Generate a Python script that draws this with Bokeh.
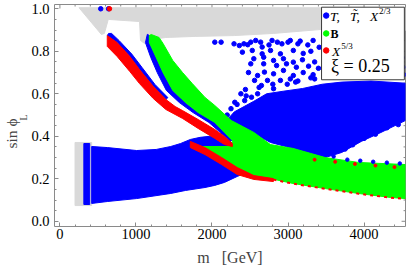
from bokeh.plotting import figure
from bokeh.models import Range1d, FixedTicker, Label, PrintfTickFormatter, Title
from bokeh.embed import file_html
from bokeh.resources import INLINE

FONT = "Liberation Serif"
BLUE, GREEN, RED, GRAY = "#0000ff", "#00ff00", "#ff0000", "#d9d9d9"
FRAME = "#8a8a8a"
NB = "\u00a0"

# ---------------- axes ----------------
X_LO, X_HI = -71, 4545
Y_LO, Y_HI = -0.0245, 1.0202
x_ticks = [0, 1000, 2000, 3000, 4000]
x_minor = [v for v in range(0, 4600, 200) if v % 1000]
y_ticks = [0.0, 0.2, 0.4, 0.6, 0.8, 1.0]
y_minor = [round(0.05 * k, 2) for k in range(0, 21) if k % 4]

# ---------------- data: m [GeV] vs sin(phi_L), region outlines ----------------
# grey: excluded points
gray_top_m = [251, 4543, 4543, 3579, 2808, 2294, 1780, 1394, 1214, 1112, 1060, 1047, 636, 585, 546]
gray_top_s = [1.005, 1.005, 0.898, 0.907, 0.884, 0.874, 0.870, 0.865, 0.856, 0.837, 0.851, 0.940, 0.950, 0.884, 0.879]
gray_low_m = [199, 418, 418, 199]
gray_low_s = [0.074, 0.074, 0.371, 0.371]

# blue: T, T~, X2/3
blue_strip_m = [315, 392, 392, 315]
blue_strip_s = [0.079, 0.079, 0.366, 0.366]
blue_low_m = [418, 623, 1009, 1266, 1458, 1587, 1715, 1844, 1972, 2101, 2230, 2358, 2461,
              2461, 2332, 2165, 2037, 1908, 1651, 1458, 1009, 623, 418]
blue_low_s = [0.352, 0.347, 0.333, 0.338, 0.352, 0.366, 0.385, 0.395, 0.400, 0.400, 0.380, 0.333, 0.263,
              0.230, 0.211, 0.183, 0.169, 0.159, 0.145, 0.131, 0.107, 0.093, 0.084]
cloud_m = [2191, 2294, 2422, 2551, 2718, 2936, 3193, 3450, 3707, 4093, 4543, 4543, 4222, 3964,
           3707, 3489, 3065, 2769, 2551, 2358]
cloud_s = [0.474, 0.515, 0.540, 0.565, 0.600, 0.612, 0.625, 0.645, 0.655, 0.660, 0.650, 0.474, 0.418, 0.376,
           0.324, 0.300, 0.343, 0.371, 0.413, 0.446]
cloud_pts_m = [2037, 2120, 2290, 2360, 2420, 2470, 2510, 2575, 2640, 2660, 2790, 2750, 2860, 2920, 3000, 3030,
               3130, 3160, 3330, 3410, 3260,
               2400, 2530, 2660, 2770, 2900, 3070, 3200, 3300,
               2550, 2680, 2810, 2940, 3070, 3190, 3350,
               2510, 2680, 2850, 2980, 3110, 3270, 3400,
               2600, 2690, 2810, 2940, 3070, 3200, 3330, 2480,
               2560, 2650, 2730, 2810, 2900, 2990, 3030, 3130, 3300, 2440, 2380,
               2430, 2520, 2600, 2330, 2250, 2200, 2160,
               2300, 2450, 2620, 2800, 3100, 3350, 3600,
               4490, 4510, 4500, 4520,
               4450, 4300, 4150, 4000, 3850, 3750,
               537, 640]
cloud_pts_s = [0.843, 0.843, 0.835, 0.827, 0.835, 0.831, 0.843, 0.851, 0.843, 0.820, 0.851, 0.830, 0.843, 0.835, 0.843, 0.851,
               0.835, 0.848, 0.851, 0.819, 0.830,
               0.796, 0.804, 0.788, 0.804, 0.788, 0.804, 0.790, 0.800,
               0.765, 0.772, 0.757, 0.765, 0.749, 0.760, 0.750,
               0.741, 0.741, 0.733, 0.741, 0.725, 0.730, 0.720,
               0.686, 0.702, 0.694, 0.710, 0.686, 0.700, 0.690, 0.700,
               0.663, 0.639, 0.663, 0.624, 0.663, 0.645, 0.670, 0.660, 0.675, 0.620, 0.600,
               0.568, 0.584, 0.600, 0.550, 0.530, 0.500, 0.480,
               0.560, 0.590, 0.630, 0.645, 0.655, 0.670, 0.680,
               0.812, 0.725, 0.770, 0.690,
               0.455, 0.440, 0.410, 0.390, 0.360, 0.340,
               1.000, 1.000]
blue_on_green_m = [3600, 3780, 3950, 4120, 4300, 4470]
blue_on_green_s = [0.305, 0.290, 0.285, 0.280, 0.276, 0.272]
blue_edge_red_m = [640, 680, 780, 945, 1080, 1250, 1420, 1394, 1227, 1047, 919, 752, 623]
blue_edge_red_s = [0.884, 0.884, 0.850, 0.787, 0.724, 0.644, 0.582, 0.573, 0.635, 0.714, 0.776, 0.841, 0.874]
blue_edge_green_m = [1150, 1125, 1195, 1280, 1400, 1570, 1750, 1960, 2110, 2230,
                     2268, 2165, 2037, 1818, 1651, 1484, 1356, 1266, 1176, 1176]
blue_edge_green_s = [0.880, 0.841, 0.771, 0.700, 0.616, 0.559, 0.512, 0.465, 0.418, 0.380,
                     0.380, 0.418, 0.465, 0.512, 0.559, 0.616, 0.700, 0.771, 0.841, 0.874]

# green: B
green_m = [1201, 1304, 1356, 1484, 1613, 1741, 1908, 2037, 2255, 2551, 2769, 3065, 3489, 3926, 4543,
           4543, 4350, 3926, 3489, 3065, 2769, 2551, 2332, 2127, 1908, 1844, 2268,
           2268, 2165, 2037, 1818, 1651, 1484, 1356, 1266, 1176, 1176]
green_s = [0.879, 0.865, 0.837, 0.757, 0.700, 0.648, 0.583, 0.545, 0.474, 0.418, 0.361, 0.343, 0.300, 0.277, 0.267,
           0.107, 0.112, 0.131, 0.154, 0.178, 0.201, 0.210, 0.248, 0.296, 0.343, 0.352, 0.352,
           0.380, 0.418, 0.465, 0.512, 0.559, 0.616, 0.700, 0.771, 0.841, 0.874]

# red: X5/3
red_up_m = [623, 752, 919, 1047, 1227, 1394, 1516, 1613, 1818, 2037, 2165, 2268,
            2268, 2165, 2037, 1818, 1613, 1394, 1227, 1047, 919, 752, 623]
red_up_s = [0.874, 0.841, 0.776, 0.714, 0.635, 0.573, 0.540, 0.521, 0.479, 0.432, 0.399, 0.366,
            0.352, 0.361, 0.390, 0.437, 0.484, 0.526, 0.578, 0.648, 0.705, 0.776, 0.823]
red_low_m = [1715, 1908, 2127, 2332, 2551, 2808, 2808, 2551, 2332, 2127, 1908, 1715]
red_low_s = [0.376, 0.347, 0.300, 0.253, 0.215, 0.201, 0.187, 0.197, 0.220, 0.267, 0.314, 0.347]
red_edge_m = [2808, 3065, 3489, 3926, 4350, 4543]
red_edge_s = [0.196, 0.177, 0.153, 0.130, 0.111, 0.106]
red_top_m = [652]
red_top_s = [1.000]
red_in_green_m = [3350, 3620, 3880, 4150, 4400]
red_in_green_s = [0.290, 0.280, 0.270, 0.262, 0.255]

# legend layout (data coordinates of the inset box)
leg_box = dict(left=3441, right=4530, top=1.0075, bottom=0.666)
leg_dot_m = [3502, 3502, 3502]
leg_dot_s = [0.968, 0.884, 0.804]
leg_colors = [BLUE, GREEN, RED]

# ---------------- figure ----------------
p = figure(width=407, height=269, output_backend="svg", toolbar_location=None,
           x_range=Range1d(X_LO, X_HI), y_range=Range1d(Y_LO, Y_HI),
           min_border_left=46, min_border_right=2, min_border_top=4, min_border_bottom=43)
p.grid.visible = False
p.outline_line_color = FRAME
p.outline_line_width = 1
p.background_fill_color = "white"
p.border_fill_color = "white"

for ax, tk, fmt in ((p.xaxis[0], FixedTicker(ticks=x_ticks, minor_ticks=x_minor), PrintfTickFormatter(format="%d")),
                    (p.yaxis[0], FixedTicker(ticks=y_ticks, minor_ticks=y_minor), PrintfTickFormatter(format="%.1f"))):
    ax.ticker = tk
    ax.formatter = fmt
    ax.axis_line_color = None
    ax.major_tick_in = 4
    ax.major_tick_out = 0
    ax.minor_tick_in = 2
    ax.minor_tick_out = 0
    ax.major_tick_line_color = FRAME
    ax.minor_tick_line_color = FRAME
    ax.major_label_text_font = FONT
    ax.major_label_text_font_size = "14.5px"
    ax.major_label_text_color = "black"
p.xaxis.major_label_standoff = 2
p.yaxis.major_label_standoff = 5
p.xaxis.axis_label = "m" + NB * 3 + "[GeV]"
p.xaxis.axis_label_text_font = FONT
p.xaxis.axis_label_text_font_size = "16px"
p.xaxis.axis_label_text_font_style = "normal"
p.xaxis.axis_label_standoff = 7

# y axis title "sin phi_L": subscript placed as its own small title
p.add_layout(Title(text="L", text_font=FONT, text_font_size="10px", text_font_style="normal",
                   align="left", offset=106, standoff=-4, vertical_align="top"), "left")
p.add_layout(Title(text="sin" + NB + "\u03d5", text_font=FONT, text_font_size="15.5px",
                   text_font_style="normal", align="left", offset=78, standoff=0), "left")

# mirrored ticks on the top and right frame edges (4 px major, 2 px minor)
px_x = (X_HI - X_LO) / 359.0
px_y = (Y_HI - Y_LO) / 222.0
p.segment(x0=x_ticks, y0=[Y_HI] * len(x_ticks), x1=x_ticks, y1=[Y_HI - 4 * px_y] * len(x_ticks),
          line_color=FRAME, line_width=1)
p.segment(x0=x_minor, y0=[Y_HI] * len(x_minor), x1=x_minor, y1=[Y_HI - 2 * px_y] * len(x_minor),
          line_color=FRAME, line_width=1)
p.segment(x0=[X_HI] * len(y_ticks), y0=y_ticks, x1=[X_HI - 4 * px_x] * len(y_ticks), y1=y_ticks,
          line_color=FRAME, line_width=1)
p.segment(x0=[X_HI] * len(y_minor), y0=y_minor, x1=[X_HI - 2 * px_x] * len(y_minor), y1=y_minor,
          line_color=FRAME, line_width=1)

# ---------------- regions ----------------
def patch(xs, ys, color):
    p.patch(xs, ys, fill_color=color, line_color=color, line_width=1)

patch(gray_top_m, gray_top_s, GRAY)
patch(gray_low_m, gray_low_s, GRAY)
patch(blue_strip_m, blue_strip_s, BLUE)
patch(blue_low_m, blue_low_s, BLUE)
patch(cloud_m, cloud_s, BLUE)
p.scatter(cloud_pts_m, cloud_pts_s, size=4.5, color=BLUE)
patch(blue_edge_red_m, blue_edge_red_s, BLUE)
patch(blue_edge_green_m, blue_edge_green_s, BLUE)
patch(green_m, green_s, GREEN)
p.scatter(blue_on_green_m, blue_on_green_s, size=3.5, color=BLUE)
patch(red_up_m, red_up_s, RED)
patch(red_low_m, red_low_s, RED)
p.line(red_edge_m, red_edge_s, line_color=RED, line_width=2, line_dash="3 4")
p.scatter(red_top_m, red_top_s, size=4.5, color=RED)
p.scatter(red_in_green_m, red_in_green_s, size=3, color=RED)

# ---------------- inset legend ----------------
p.quad(left=[leg_box["left"]], right=[leg_box["right"]], top=[leg_box["top"]], bottom=[leg_box["bottom"]],
       fill_color="white", line_color="#3a3a3a", line_width=1)
p.scatter(leg_dot_m, leg_dot_s, size=5.5, color=leg_colors)

def label(x, y, text, size, style="normal"):
    p.add_layout(Label(x=x, y=y, text=text, text_font=FONT, text_font_size=size,
                       text_font_style=style, text_baseline="middle", text_align="left",
                       text_color="black"))

label(3553, 0.966, "T," + NB * 3 + "T\u0303," + NB * 3 + "X", "13.5px", "italic")
label(4195, 0.988, "2/3", "9px")
label(3559, 0.881, "B", "12px", "bold")
label(3579, 0.801, "X", "13.5px", "italic")
label(3701, 0.823, "5/3", "9px")
label(3566, 0.733, "\u03be = 0.25", "18px")

open("out.html", "w").write(file_html(p, INLINE))
